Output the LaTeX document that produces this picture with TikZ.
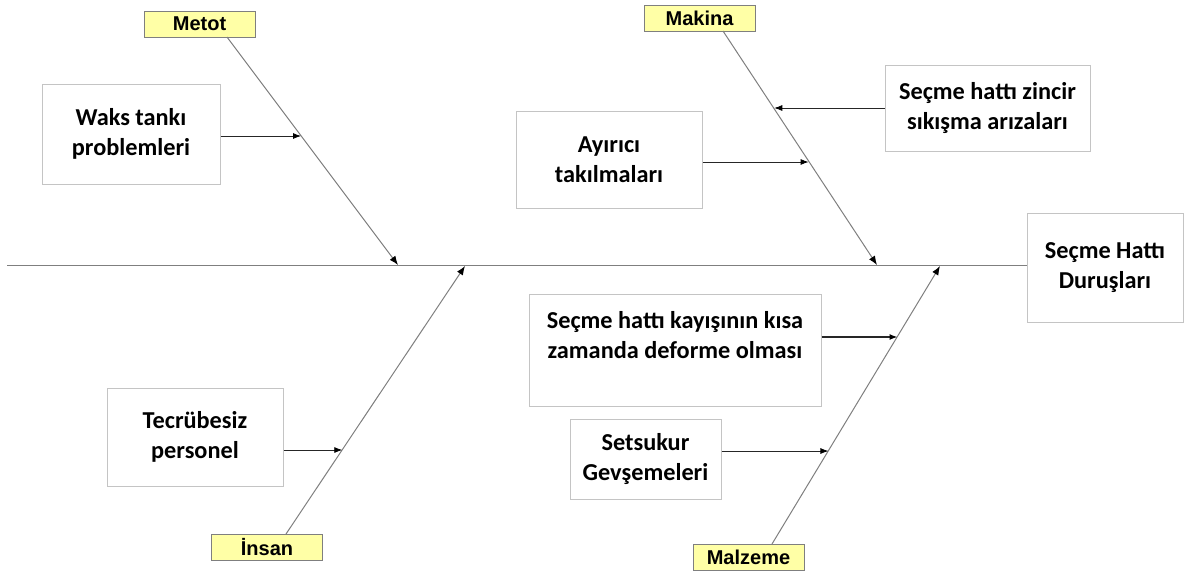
\documentclass[tikz,border=0pt]{standalone}
\usepackage{fontspec}
\setmainfont{Carlito}
\newfontfamily\labelfont{Liberation Sans}
\usetikzlibrary{arrows.meta,calc}
\definecolor{boneGray}{HTML}{7F7F7F}
\definecolor{boxGray}{HTML}{C4C4C4}
\definecolor{catYellow}{HTML}{FFFFA6}
\tikzset{
  causebox/.style={draw=boxGray, line width=1pt, fill=white, align=center,
    font=\fontsize{24.3}{30}\selectfont\bfseries, inner sep=0pt},
  catlabel/.style={draw=boneGray, line width=0.9pt, fill=catYellow,
    font=\labelfont\fontsize{20}{22}\selectfont\bfseries, inner sep=0pt,
    minimum width=111pt, minimum height=26pt},
  bone/.style={draw=boneGray, line width=1pt,
    -{Latex[length=9pt,width=7pt,color=black]}},
  feeder/.style={draw=black!85, line width=0.8pt,
    -{Latex[length=8pt,width=6pt,color=black]}},
}
\begin{document}
\begin{tikzpicture}[x=1pt,y=-1pt]
\useasboundingbox (0,0) rectangle (1184,574);

% category labels
\node[catlabel] (metot)   at (199.5,24)  {Metot};
\node[catlabel] (makina)  at (699.5,18)  {Makina};
\node[catlabel] (insan)   at (267,547)   {İnsan};
\node[catlabel] (malzeme) at (748.5,557) {Malzeme};

% effect box
\node[causebox, minimum width=156pt, minimum height=109pt] (head) at (1105,267.5)
  {Seçme Hattı\\Duruşları};

% cause boxes
\node[causebox, minimum width=178pt, minimum height=100pt] (waks) at (131,134)
  {Waks tankı\\problemleri};
\node[causebox, minimum width=186pt, minimum height=97pt] (ayirici) at (609,159.5)
  {Ayırıcı\\takılmaları};
\node[causebox, minimum width=205pt, minimum height=86pt] (zincir) at (987.5,108)
  {Seçme hattı zincir\\sıkışma arızaları};
\node[causebox, minimum width=292pt, minimum height=112pt] (kayis) at (675,350)
  {Seçme hattı kayışının kısa\\zamanda deforme olması\\\mbox{}};
\node[causebox, minimum width=151pt, minimum height=80pt] (setsukur) at (645.5,459)
  {Setsukur\\Gevşemeleri};
\node[causebox, minimum width=176pt, minimum height=98pt] (tecrube) at (195,437)
  {Tecrübesiz\\personel};

% spine
\coordinate (tail) at (7,265);
\draw[draw=boneGray, line width=1pt] (tail) -- (tail -| head.west);

% bone ends
\coordinate (mtop) at (227,37);  \coordinate (mtip) at (398,265);
\coordinate (ktop) at (723,31);  \coordinate (ktip) at (877,265);
\coordinate (itop) at (286,534); \coordinate (itip) at (465,266);
\coordinate (ztop) at (772,544); \coordinate (ztip) at (940,266);

\draw[bone] (mtop) -- (mtip);
\draw[bone] (ktop) -- (ktip);
\draw[bone] (itop) -- (itip);
\draw[bone] (ztop) -- (ztip);

% points where the causes meet their bones
\coordinate (pw) at (301,136);
\coordinate (pa) at (808.6,162);
\coordinate (pz) at (774.3,108);
\coordinate (pk) at (897.5,337);
\coordinate (ps) at (828.4,451);
\coordinate (pt) at (342.3,450);

\draw[feeder] (waks.east |- pw) -- (pw);
\draw[feeder] (ayirici.east |- pa) -- (pa);
\draw[feeder] (zincir.west |- pz) -- (pz);
\draw[feeder, line width=1.3pt] (kayis.east |- pk) -- (pk);
\draw[feeder] (setsukur.east |- ps) -- (ps);
\draw[feeder] (tecrube.east |- pt) -- (pt);
\end{tikzpicture}
\end{document}
